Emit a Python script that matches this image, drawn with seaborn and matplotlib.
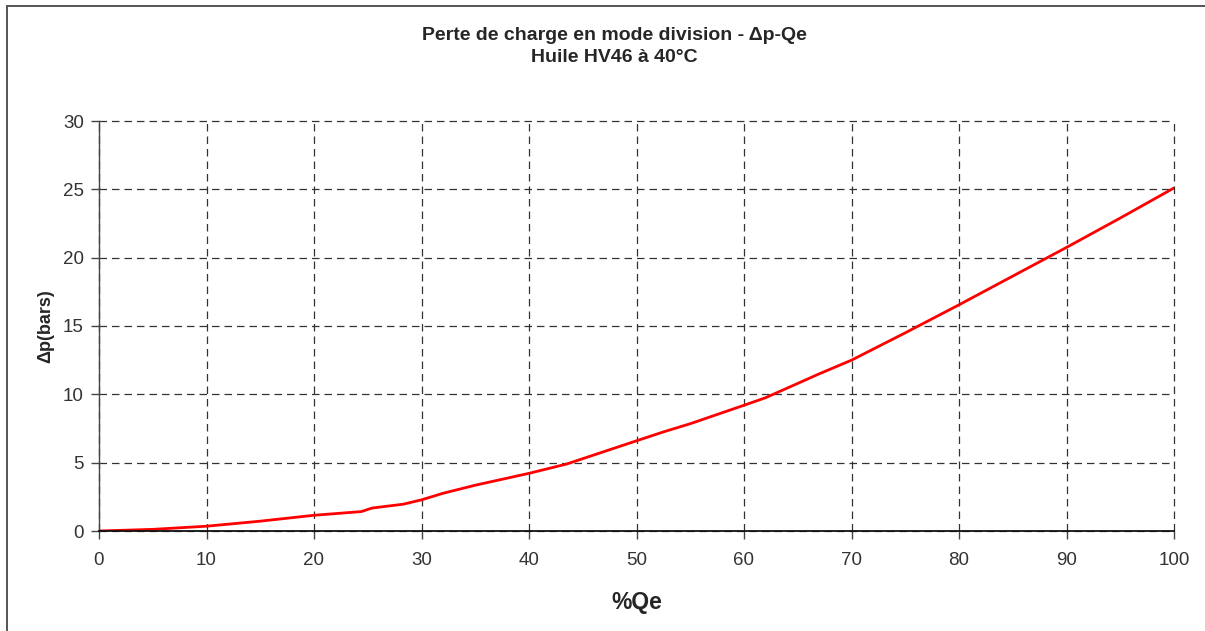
import numpy as np
import pandas as pd
import matplotlib
matplotlib.use('Agg')
import matplotlib.pyplot as plt
import matplotlib.patches as patches
import seaborn as sns

# courbe perte de charge
debit_pct = [0, 5, 10, 15, 20, 24.4, 25.4, 28.3, 30, 32, 35, 40, 43.5, 50, 52.5,
             55, 60, 62, 65, 67, 70, 75, 80, 85, 90, 95, 100]
delta_p = [0, 0.12, 0.35, 0.72, 1.15, 1.42, 1.68, 1.96, 2.28, 2.76, 3.35, 4.22, 4.9,
           6.6, 7.25, 7.85, 9.2, 9.75, 10.8, 11.5, 12.5, 14.5, 16.55, 18.65, 20.75,
           22.9, 25.1]
x_ticks = list(range(0, 101, 10))
y_ticks = list(range(0, 31, 5))

df = pd.DataFrame({'Qe': debit_pct, 'dp': delta_p})

sns.set_style('ticks')
plt.rcParams['font.family'] = ['Liberation Sans', 'DejaVu Sans']

fig = plt.figure(figsize=(12.05, 6.31), dpi=100)
ax = fig.add_axes([99 / 1205, 100 / 631, 1075 / 1205, 410 / 631])

sns.lineplot(data=df, x='Qe', y='dp', color='#ff0000', linewidth=2.0, ax=ax)

ax.set_xlim(0, 100)
ax.set_ylim(0, 30)
ax.set_xticks(x_ticks)
ax.set_yticks(y_ticks)
ax.grid(True, linestyle=(0, (6, 4)), color='#333333', linewidth=0.9)
for gl in ax.get_xgridlines() + ax.get_ygridlines():
    gl.set_clip_on(False)
ax.set_axisbelow(True)

for s in ['top', 'right']:
    ax.spines[s].set_visible(False)
ax.spines['left'].set_color('#444444')
ax.spines['bottom'].set_color('#111111')
ax.spines['left'].set_linewidth(1.0)
ax.spines['bottom'].set_linewidth(1.3)

ax.tick_params(axis='both', direction='out', length=6, width=1, color='#444444',
               labelsize=13.5, labelcolor='#333333', pad=5,
               bottom=True, left=True, top=False, right=False)
ax.tick_params(axis='x', pad=9)

ax.set_xlabel('%Qe', fontsize=16.5, fontweight='bold', labelpad=16)
ax.set_ylabel('Δp(bars)', fontsize=13, fontweight='bold', labelpad=6)

fig.text(614 / 1205, 1 - 35 / 631, 'Perte de charge en mode division - Δp-Qe',
         ha='center', va='center', fontsize=14, fontweight='bold')
fig.text(614 / 1205, 1 - 58 / 631, 'Huile HV46 à 40°C',
         ha='center', va='center', fontsize=14, fontweight='bold')

# cadre du graphique (coupé à droite et en bas)
cadre = patches.Rectangle((7 / 1205, -0.1), 1.2, 1.1 - 6 / 631,
                          transform=fig.transFigure, fill=False,
                          edgecolor='#555555', linewidth=1.4, clip_on=False)
fig.patches.append(cadre)

fig.savefig('out.png', dpi=100)
